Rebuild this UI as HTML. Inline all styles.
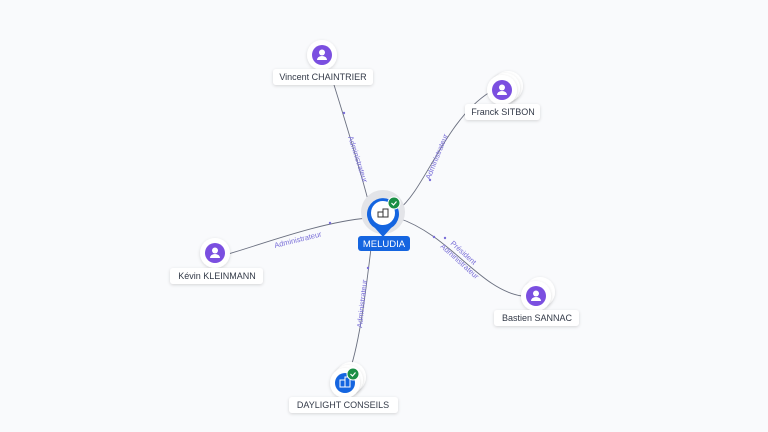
<!DOCTYPE html>
<html><head><meta charset="utf-8"><style>
html,body{margin:0;padding:0;background:#f9fafc;}
svg{display:block;font-family:"Liberation Sans",sans-serif;}
.lbl{font-size:9px;fill:#333a48;}
.el{font-size:7.5px;fill:#7a6fd8;}
</style></head><body>
<svg width="768" height="432" viewBox="0 0 768 432">
<defs>
<filter id="sh" x="-50%" y="-50%" width="200%" height="200%"><feDropShadow dx="0" dy="1" stdDeviation="1.5" flood-color="#000" flood-opacity="0.15"/></filter>
<g id="person"><circle r="15" fill="#fff" filter="url(#sh)"/><circle r="10" fill="#7b4fe0"/><circle cy="-2.5" r="3" fill="#fff"/><path d="M-5,5 a5,4 0 0 1 10,0 z" fill="#fff"/></g>
</defs>
<g fill="none" stroke="#6b7080" stroke-width="0.9">
<path d="M368,200 C360,170 345,120 330,72"/>
<path d="M398,210 C425,190 445,120 490,92"/>
<path d="M368,218 C320,222 260,245 228,254"/>
<path d="M398,218 C450,235 480,290 522,296"/>
<path d="M372,240 C366,290 360,340 350,370"/>
</g>
<g class="el">
<text transform="translate(348,137) rotate(72)">Administrateur</text>
<text transform="translate(430,180) rotate(-68)">Administrateur</text>
<text transform="translate(275,248) rotate(-14)">Administrateur</text>
<text transform="translate(450,244) rotate(42)">Président</text>
<text transform="translate(440,247) rotate(42)">Administrateur</text>
<text transform="translate(362,328) rotate(-84)">Administrateur</text>
</g>
<g fill="#7a6fd8">
<circle cx="344" cy="113" r="1.2"/><circle cx="430" cy="180" r="1.2"/><circle cx="330" cy="223" r="1.2"/><circle cx="445" cy="238" r="1.2"/><circle cx="434" cy="237" r="1.2"/><circle cx="368" cy="268" r="1.2"/>
</g>
<use href="#person" x="322" y="55"/>
<rect x="273" y="69" width="100" height="16" rx="3" fill="#fff" filter="url(#sh)"/>
<text class="lbl" x="323" y="80" text-anchor="middle">Vincent CHAINTRIER</text>
<circle cx="508" cy="86" r="15" fill="#fff" filter="url(#sh)"/>
<circle cx="505" cy="88" r="15" fill="#fff" filter="url(#sh)"/>
<use href="#person" x="502" y="90"/>
<rect x="465" y="104" width="75" height="16" rx="3" fill="#fff" filter="url(#sh)"/>
<text class="lbl" x="503" y="115" text-anchor="middle">Franck SITBON</text>
<use href="#person" x="215" y="253"/>
<rect x="170" y="268" width="93" height="16" rx="3" fill="#fff" filter="url(#sh)"/>
<text class="lbl" x="217" y="279" text-anchor="middle">Kévin KLEINMANN</text>
<circle cx="540" cy="292" r="15" fill="#fff" filter="url(#sh)"/>
<use href="#person" x="536" y="296"/>
<rect x="494" y="310" width="85" height="16" rx="3" fill="#fff" filter="url(#sh)"/>
<text class="lbl" x="537" y="321" text-anchor="middle">Bastien SANNAC</text>
<circle cx="351" cy="377" r="15" fill="#fff" filter="url(#sh)"/>
<circle cx="348" cy="380" r="15" fill="#fff" filter="url(#sh)"/>
<circle cx="345" cy="383" r="15" fill="#fff" filter="url(#sh)"/>
<circle cx="345" cy="383" r="10" fill="#1565e0"/>
<rect x="340" y="380" width="5" height="7" fill="none" stroke="#fff" stroke-width="1"/><rect x="345" y="377" width="5" height="10" fill="none" stroke="#fff" stroke-width="1"/>
<circle cx="353" cy="374" r="6" fill="#1a8f45" stroke="#fff" stroke-width="1"/>
<path d="M350.5,374 l2,2 l3,-3.5" stroke="#fff" stroke-width="1.2" fill="none"/>
<rect x="289" y="397" width="109" height="16" rx="3" fill="#fff" filter="url(#sh)"/>
<text class="lbl" x="343" y="408" text-anchor="middle">DAYLIGHT CONSEILS</text>
<circle cx="383" cy="212" r="22" fill="#e3e4e8"/>
<path d="M383,237 L375,228 A16,16 0 1 1 391,228 Z" fill="#1565e0"/>
<circle cx="383" cy="213" r="12" fill="#fff"/>
<rect x="378" y="212" width="5" height="5" fill="none" stroke="#333" stroke-width="1"/><rect x="383" y="209" width="5" height="8" fill="none" stroke="#333" stroke-width="1"/>
<circle cx="394" cy="203" r="6" fill="#1a8f45" stroke="#fff" stroke-width="1"/>
<path d="M391.5,203 l2,2 l3,-3.5" stroke="#fff" stroke-width="1.2" fill="none"/>
<rect x="358" y="236" width="52" height="15" rx="3" fill="#1565e0"/>
<text x="384" y="247" text-anchor="middle" font-size="9.5" fill="#fff">MELUDIA</text>
</svg>
</body></html>
